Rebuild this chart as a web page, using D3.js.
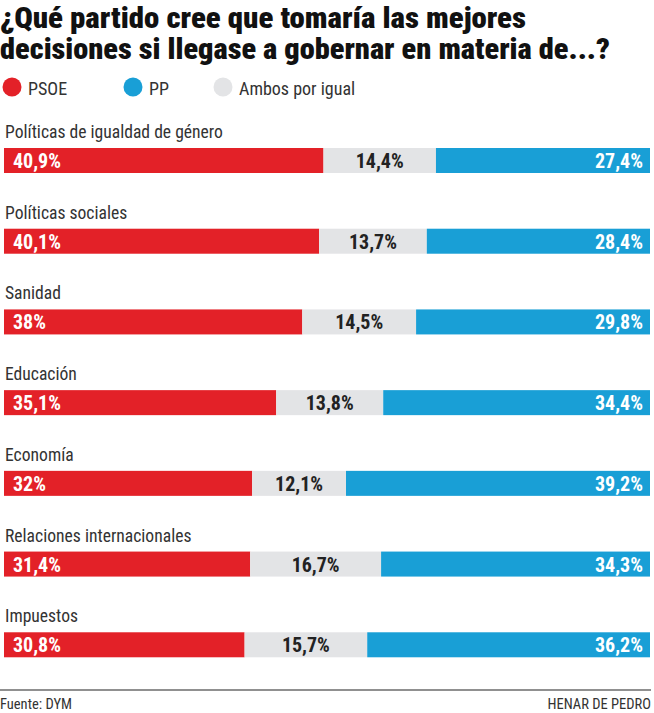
<!DOCTYPE html>
<html>
<head>
<meta charset="utf-8">
<style>
  body { margin: 0; background: #fff; }
  svg text { font-family: Roboto, "Liberation Sans Narrow", sans-serif; font-stretch: 75%; }
</style>
<script src="https://d3js.org/d3.v7.min.js"></script>
</head>
<body>
<div id="chart"></div>
<script>
const categories = ["Políticas de igualdad de género", "Políticas sociales", "Sanidad", "Educación",
  "Economía", "Relaciones internacionales", "Impuestos"];
const psoe = [40.9, 40.1, 38, 35.1, 32, 31.4, 30.8];
const ambos = [14.4, 13.7, 14.5, 13.8, 12.1, 16.7, 15.7];
const pp = [27.4, 28.4, 29.8, 34.4, 39.2, 34.3, 36.2];
const legendLabels = ["PSOE", "PP", "Ambos por igual"];

const colors = { psoe: "#e32128", pp: "#199fd6", ambos: "#e3e4e6" };
const W = 654, H = 713;
const fmt = v => String(v).replace(".", ",") + "%";

const svg = d3.select("#chart").append("svg")
  .attr("width", W).attr("height", H);

// title
const title = ["¿Qué partido cree que tomaría las mejores", "decisiones si llegase a gobernar en materia de...?"];
const titleW = [526, 610];
svg.selectAll(".title").data(title).join("text")
  .attr("x", 0).attr("y", (d, i) => 28 + i * 31)
  .attr("font-size", 30).attr("font-weight", 900).attr("fill", "#111")
  .attr("textLength", (d, i) => titleW[i]).attr("lengthAdjust", "spacingAndGlyphs")
  .text(d => d);

// legend
const legX = [12, 133, 223];
const legC = [colors.psoe, colors.pp, colors.ambos];
const leg = svg.append("g");
leg.selectAll("circle").data(legendLabels).join("circle")
  .attr("cx", (d, i) => legX[i]).attr("cy", 87).attr("r", 9.5)
  .attr("fill", (d, i) => legC[i]);
leg.selectAll("text").data(legendLabels).join("text")
  .attr("x", (d, i) => legX[i] + 16).attr("y", 95)
  .attr("font-size", 18).attr("fill", "#333")
  .text(d => d);

// rows
const y = d3.scaleBand().domain(categories).range([119, 684]).paddingInner(0);
const rows = categories.map((c, i) => ({ cat: c, psoe: psoe[i], ambos: ambos[i], pp: pp[i] }));

const row = svg.selectAll(".row").data(rows).join("g")
  .attr("transform", d => `translate(0,${y(d.cat)})`);

row.append("text")
  .attr("x", 5).attr("y", 19)
  .attr("font-size", 17.6).attr("fill", "#333")
  .text(d => d.cat);

const keys = ["psoe", "ambos", "pp"];
row.each(function(d) {
  const g = d3.select(this);
  const total = d.psoe + d.ambos + d.pp;
  const x = d3.scaleLinear().domain([0, total]).range([4, 650]);
  let acc = 0;
  const segs = keys.map(k => { const s = { k, v: d[k], x0: acc, x1: acc + d[k] }; acc += d[k]; return s; });
  g.selectAll("rect").data(segs).join("rect")
    .attr("x", s => x(s.x0)).attr("width", s => x(s.x1) - x(s.x0))
    .attr("y", 29).attr("height", 25)
    .attr("fill", s => colors[s.k]);
  g.selectAll(".val").data(segs).join("text")
    .attr("class", "val")
    .attr("x", s => s.k === "psoe" ? x(s.x0) + 9 : s.k === "ambos" ? (x(s.x0) + x(s.x1)) / 2 : x(s.x1) - 7)
    .attr("text-anchor", s => s.k === "psoe" ? "start" : s.k === "ambos" ? "middle" : "end")
    .attr("y", 49)
    .attr("font-size", 20).attr("font-weight", "bold")
    .attr("fill", s => s.k === "ambos" ? "#222" : "#fff")
    .text(s => fmt(s.v));
});

// footer
svg.append("line").attr("x1", 0).attr("x2", 651).attr("y1", 690).attr("y2", 690)
  .attr("stroke", "#222").attr("stroke-width", 1.2);
svg.append("text").attr("x", 0).attr("y", 709).attr("font-size", 14.5).attr("fill", "#333")
  .text("Fuente: DYM");
svg.append("text").attr("x", 651).attr("y", 709).attr("text-anchor", "end")
  .attr("font-size", 14.5).attr("fill", "#333").text("HENAR DE PEDRO");
</script>
</body>
</html>
